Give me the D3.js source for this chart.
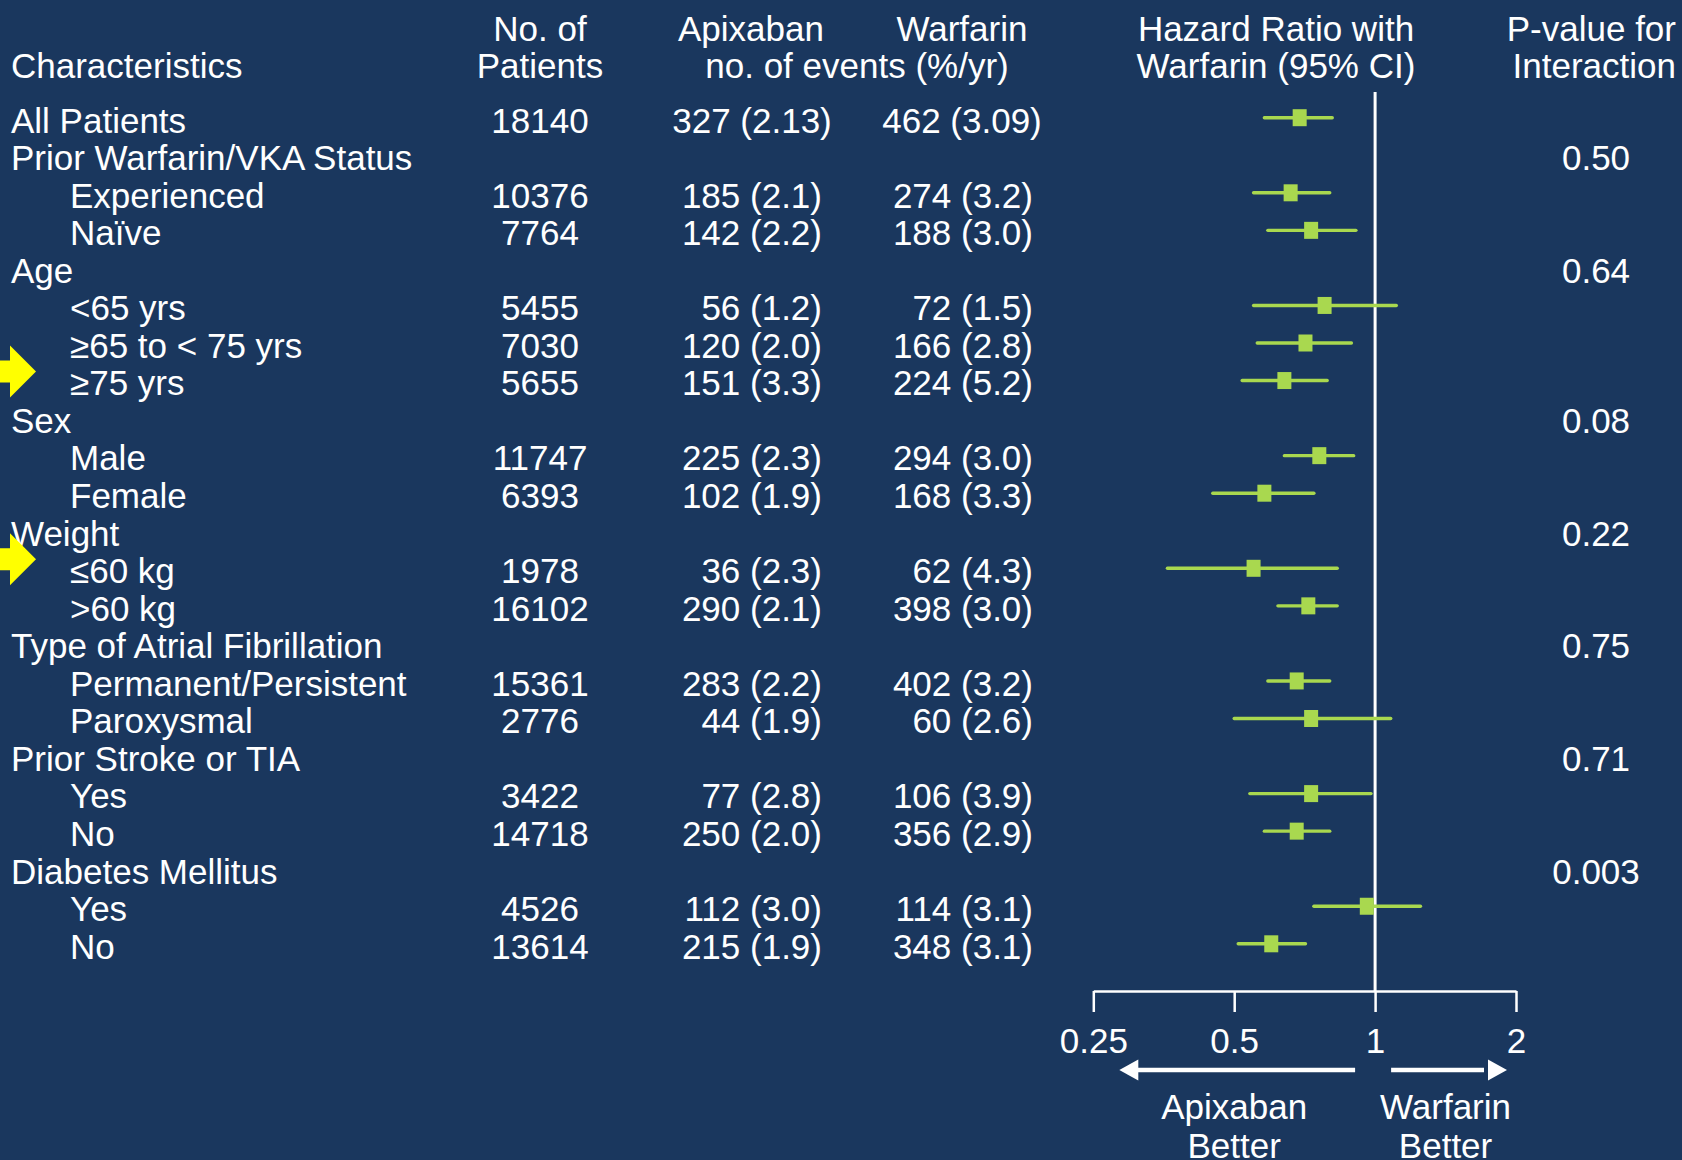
<!DOCTYPE html>
<html><head><meta charset="utf-8">
<script src="https://cdn.jsdelivr.net/npm/d3@7"></script>
<style>html,body{margin:0;padding:0;background:#1a375e;} svg{display:block}</style>
</head><body><svg id="chart" width="1682" height="1160"></svg>
<script>
// ---------- data ----------
const rowLabels = ["All Patients","Prior Warfarin/VKA Status","Experienced","Naïve","Age","<65 yrs","≥65 to < 75 yrs","≥75 yrs","Sex","Male","Female","Weight","≤60 kg",">60 kg","Type of Atrial Fibrillation","Permanent/Persistent","Paroxysmal","Prior Stroke or TIA","Yes","No","Diabetes Mellitus","Yes","No"];
const rowIndent = [0,0,1,1,0,1,1,1,0,1,1,0,1,1,0,1,1,0,1,1,0,1,1];
const nPatients = ["18140","","10376","7764","","5455","7030","5655","","11747","6393","","1978","16102","","15361","2776","","3422","14718","","4526","13614"];
const apixabanEvents = ["327 (2.13)","","185 (2.1)","142 (2.2)","","56 (1.2)","120 (2.0)","151 (3.3)","","225 (2.3)","102 (1.9)","","36 (2.3)","290 (2.1)","","283 (2.2)","44 (1.9)","","77 (2.8)","250 (2.0)","","112 (3.0)","215 (1.9)"];
const warfarinEvents = ["462 (3.09)","","274 (3.2)","188 (3.0)","","72 (1.5)","166 (2.8)","224 (5.2)","","294 (3.0)","168 (3.3)","","62 (4.3)","398 (3.0)","","402 (3.2)","60 (2.6)","","106 (3.9)","356 (2.9)","","114 (3.1)","348 (3.1)"];
const hazardRatio = [0.69,null,0.66,0.73,null,0.78,0.71,0.64,null,0.76,0.58,null,0.55,0.72,null,0.68,0.73,null,0.73,0.68,null,0.96,0.60];
const ciLow  = [0.58,null,0.55,0.59,null,0.55,0.56,0.52,null,0.64,0.45,null,0.36,0.62,null,0.59,0.50,null,0.54,0.58,null,0.74,0.51];
const ciHigh = [0.81,null,0.80,0.91,null,1.11,0.89,0.79,null,0.90,0.74,null,0.83,0.83,null,0.80,1.08,null,0.98,0.80,null,1.25,0.71];
const pInteraction = ["","0.50","","","0.64","","","","0.08","","","0.22","","","0.75","","","0.71","","","0.003","",""];
const highlightedRows = ["≥75 yrs","≤60 kg"];
const axisTicks = [0.25,0.5,1,2];
const axisTickLabels = ["0.25","0.5","1","2"];
const headerCharacteristics = ["Characteristics"];
const headerPatients = ["No. of","Patients"];
const headerApixaban = ["Apixaban"];
const headerWarfarin = ["Warfarin"];
const headerEvents = ["no. of events (%/yr)"];
const headerHR = ["Hazard Ratio with","Warfarin (95% CI)"];
const headerP = ["P-value for","Interaction"];
const directionLeft = ["Apixaban","Better"];
const directionRight = ["Warfarin","Better"];

// ---------- drawing ----------
const FONT = "'Liberation Sans', Arial, Helvetica, sans-serif";
const FS = 35;
const WHITE = "#ffffff";
const GREEN = "#a9d84f";
const svg = d3.select("#chart");
svg.append("rect").attr("width",1682).attr("height",1160).attr("fill","#1a375e");

const x = d3.scaleLog().base(2).domain([0.25,2]).range([1093.3,1516]);
const y = d3.scalePoint().domain(d3.range(rowLabels.length)).range([117.7,943.8]);
const BASE = 14.8; // baseline offset from row centre
const axisY = 991;

function txt(g, s, xx, yy, anchor) {
  return g.append("text").attr("x",xx).attr("y",yy).attr("text-anchor",anchor||"start")
    .attr("font-family",FONT).attr("font-size",FS).attr("fill",WHITE).text(s);
}

// headers
const hdr = svg.append("g");
const L1 = 41, L2 = 77.5;
txt(hdr, headerCharacteristics[0], 11, L2);
headerPatients.forEach((s,i)=>txt(hdr, s, 540, i?L2:L1, "middle"));
txt(hdr, headerApixaban[0], 751, L1, "middle");
txt(hdr, headerWarfarin[0], 962, L1, "middle");
txt(hdr, headerEvents[0], 857, L2, "middle");
headerHR.forEach((s,i)=>txt(hdr, s, 1276, i?L2:L1, "middle"));
headerP.forEach((s,i)=>txt(hdr, s, 1676, i?L2:L1, "end"));

// table rows
const rows = svg.append("g");
rowLabels.forEach((lab,i)=>{
  const by = y(i) + BASE;
  txt(rows, lab, rowIndent[i] ? 70 : 11, by);
  if (nPatients[i]) txt(rows, nPatients[i], 540, by, "middle");
  if (apixabanEvents[i]) {
    if (i===0) txt(rows, apixabanEvents[i], 752, by, "middle");
    else txt(rows, apixabanEvents[i], 822, by, "end");
  }
  if (warfarinEvents[i]) {
    if (i===0) txt(rows, warfarinEvents[i], 962, by, "middle");
    else txt(rows, warfarinEvents[i], 1033, by, "end");
  }
  if (pInteraction[i]) txt(rows, pInteraction[i], 1596, by, "middle");
});

// yellow arrows
rowLabels.forEach((lab,i)=>{
  if (!highlightedRows.includes(lab)) return;
  const cy = y(i) - 9;
  svg.append("path")
    .attr("d", `M0,${cy-11}L10,${cy-11}L10,${cy-26}L36,${cy}L10,${cy+26}L10,${cy+11}L0,${cy+11}Z`)
    .attr("fill","#ffff00");
});

// reference line at HR = 1
svg.append("line").attr("x1",x(1)).attr("x2",x(1)).attr("y1",92).attr("y2",axisY)
  .attr("stroke",WHITE).attr("stroke-width",3);

// CI lines + markers
const plotRows = d3.range(rowLabels.length).filter(i=>hazardRatio[i]!=null);
svg.append("g").selectAll("line").data(plotRows).join("line")
  .attr("x1",i=>x(ciLow[i])).attr("x2",i=>x(ciHigh[i]))
  .attr("y1",i=>y(i)).attr("y2",i=>y(i))
  .attr("stroke",GREEN).attr("stroke-width",3.4).attr("stroke-linecap","round");
svg.append("g").selectAll("rect").data(plotRows).join("rect")
  .attr("x",i=>x(hazardRatio[i])-7).attr("y",i=>y(i)-8.5)
  .attr("width",14).attr("height",17).attr("fill",GREEN);

// axis
const axis = d3.axisBottom(x).tickValues(axisTicks)
  .tickFormat((d,i)=>axisTickLabels[i]).tickSize(21).tickSizeOuter(0).tickPadding(16);
const ag = svg.append("g").attr("transform",`translate(0,${axisY})`).call(axis);
ag.attr("font-family",FONT).attr("font-size",FS);
ag.selectAll("path,line").attr("stroke",WHITE).attr("stroke-width",2.5);
ag.selectAll("text").attr("fill",WHITE);

// direction arrows
const ay = 1070;
const arr = svg.append("g");
arr.append("line").attr("x1",x(1)-20).attr("x2",x(0.25)+40).attr("y1",ay).attr("y2",ay)
  .attr("stroke",WHITE).attr("stroke-width",4.5);
arr.append("path").attr("fill",WHITE)
  .attr("d",`M${x(0.25)+26},${ay}L${x(0.25)+45},${ay-10.5}L${x(0.25)+45},${ay+10.5}Z`);
arr.append("line").attr("x1",x(1)+16).attr("x2",x(2)-32).attr("y1",ay).attr("y2",ay)
  .attr("stroke",WHITE).attr("stroke-width",4.5);
arr.append("path").attr("fill",WHITE)
  .attr("d",`M${x(2)-9},${ay}L${x(2)-28},${ay-10.5}L${x(2)-28},${ay+10.5}Z`);

directionLeft.forEach((s,i)=>txt(svg, s, x(0.5), i?1158:1119, "middle"));
directionRight.forEach((s,i)=>txt(svg, s, x(Math.SQRT2), i?1158:1119, "middle"));
</script>
</body></html>
